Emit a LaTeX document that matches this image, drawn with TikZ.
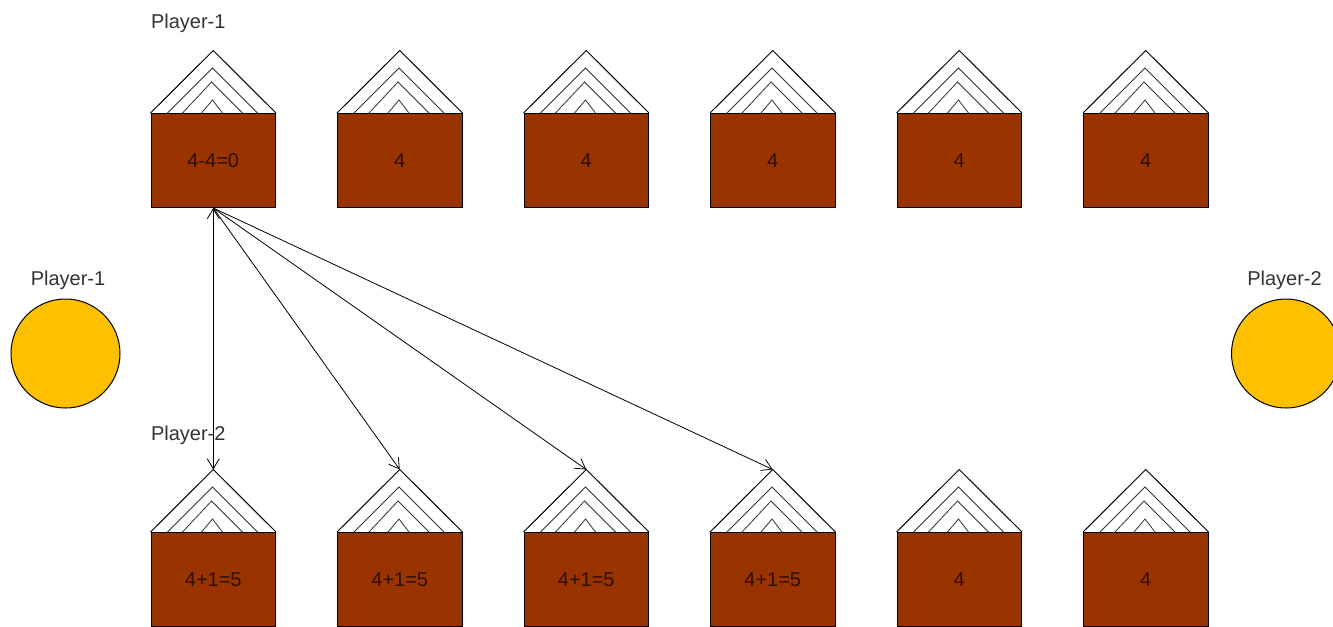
\documentclass[tikz,border=0pt]{standalone}
\usepackage{fontspec}
\usetikzlibrary{arrows.meta}
\setmainfont{Liberation Sans}
\definecolor{pitbrown}{HTML}{993300}
\definecolor{storeyellow}{HTML}{FFC000}
\definecolor{labelgray}{HTML}{333333}
\tikzset{
  pit/.style={draw,fill=pitbrown,minimum width=124.5*0.75pt,minimum height=94*0.75pt,inner sep=0pt,text=black!70!pitbrown},
  store/.style={circle,draw,fill=storeyellow,minimum size=109*0.75pt,inner sep=0pt},
  player/.style={text=labelgray,inner sep=0pt},
  roofline/.style={line width=0.6pt,draw=black!80}
}
% one pit with its roof: name, x of the left side, y of the top side, text
\newcommand{\pit}[4]{
  \node[pit,anchor=north west] (#1) at (#2,#3) {#4};
  \coordinate (#1top) at ([yshift=62.5*0.75pt]#1.north);
  \draw (#1.north west) -- (#1top) -- (#1.north east);
  \draw[roofline,shift={(#2,#3)}] (17,0) -- (62,-45) -- (107,0);
  \draw[roofline,shift={(#2,#3)}] (32,0) -- (61,-31) -- (92,0);
  \draw[roofline,shift={(#2,#3)}] (51,0) -- (62,-13) -- (72,0);
}
\begin{document}
\begin{tikzpicture}
  [x=0.75pt,y=-0.75pt,font=\fontsize{15}{18}\selectfont,line width=0.75pt]
  \clip (0,0) rectangle (1333,626);

  \node[player,anchor=west] (p1top) at (150.5,23) {Player-1};
  \node[player,anchor=west] (p2bot) at (150.5,435) {Player-2};
  \node[player] (p1side) at (68,280) {Player-1};
  \node[player] (p2side) at (1284.5,280) {Player-2};

  \node[store] (s1) at (65.5,353.5) {};
  \node[store] (s2) at (1286,353.5) {};

  \pit{a1}{150.5}{113}{4-4=0}
  \pit{a2}{337}{113}{4}
  \pit{a3}{523.5}{113}{4}
  \pit{a4}{710}{113}{4}
  \pit{a5}{896.5}{113}{4}
  \pit{a6}{1083}{113}{4}

  \pit{b1}{150.5}{532}{4+1=5}
  \pit{b2}{337}{532}{4+1=5}
  \pit{b3}{523.5}{532}{4+1=5}
  \pit{b4}{710}{532}{4+1=5}
  \pit{b5}{896.5}{532}{4}
  \pit{b6}{1083}{532}{4}

  \path[-{Straight Barb[length=7.5pt,width=9pt,line width=0.6pt]}, draw,line width=0.6pt]
        (a1.south) edge (b1top)
        (a1.south) edge (b2top)
        (a1.south) edge (b3top)
        (a1.south) edge (b4top);

\end{tikzpicture}
\end{document}
